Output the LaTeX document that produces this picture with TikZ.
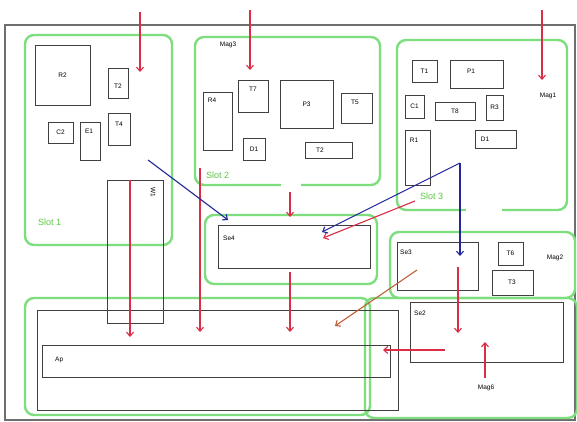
\documentclass[tikz,border=0pt]{standalone}
\usepackage{fontspec}
\setmainfont{Liberation Sans}
\usetikzlibrary{fit,arrows.meta}
\definecolor{grn}{RGB}{125,222,125}
\definecolor{grnt}{RGB}{90,200,60}
\definecolor{rd}{RGB}{220,45,70}
\definecolor{bl}{RGB}{35,40,150}
\definecolor{brn}{RGB}{190,95,60}
\definecolor{gry}{RGB}{110,110,110}
\tikzset{
  region/.style={draw=grn, line width=2.4pt, rounded corners=9pt, inner sep=0pt},
  part/.style={draw=black!75, line width=0.8pt, inner sep=0pt, font=\fontsize{6.5}{7}\selectfont},
  tag/.style={font=\fontsize{6.5}{7}\selectfont, inner sep=0pt},
  slotlbl/.style={font=\fontsize{9}{10}\selectfont, text=grnt, inner sep=0pt},
  flow/.style={draw=rd, line width=1.1pt, -{Straight Barb[length=4pt,width=7pt]}},
  bflow/.style={draw=bl, line width=1.1pt, -{Straight Barb[length=4pt,width=7pt]}},
  oflow/.style={draw=brn, line width=1.1pt, -{Straight Barb[length=4pt,width=7pt]}}
}
\begin{document}
\begin{tikzpicture}[x=1pt,y=-1pt]
\useasboundingbox (0,0) rectangle (577,422);
\fill[white] (0,0) rectangle (577,422);
% outer frame
\node[draw=gry, line width=1.3pt, inner sep=0pt, fit={(5,25)(575,420)}] (frame) {};
% green regions
\node[region, fit={(25,35)(172,245)}] (slot1) {};
\node[region, fit={(195,37)(380,185)}] (slot2) {};
\node[region, fit={(397,40)(567,210)}] (slot3) {};
\node[region, fit={(205,215)(377,284)}] (g4) {};
\node[region, fit={(390,232)(575,298)}] (gmag2) {};
\node[region, fit={(25,298)(370,415)}] (gbot) {};
\node[region, fit={(365,298)(577,418)}] (gbr) {};
% gaps in slot borders
\fill[white] (281,182) rectangle (301,188);
\fill[white] (466,207) rectangle (502,213);
% slot labels
\node[slotlbl, anchor=west] (l1) at (38,222) {Slot 1};
\node[slotlbl, anchor=west] (l2) at (206,175) {Slot 2};
\node[slotlbl, anchor=west] (l3) at (420,196) {Slot 3};
% Slot 1 parts
\node[part, fit={(35,45)(90,105)}] (R2) {}; \node[tag] at (R2.center) {R2};
\node[part, fit={(108,68)(128,98)}] (T2a) {}; \node[tag] at (118,86) {T2};
\node[part, fit={(48,122)(73,143)}] (C2) {}; \node[tag] at (C2.center) {C2};
\node[part, fit={(80,122)(100,160)}] (E1) {}; \node[tag] at (89,131) {E1};
\node[part, fit={(108,113)(130,145)}] (T4) {}; \node[tag] at (119,124) {T4};
\node[part, fit={(107,180)(163,323)}] (W1) {}; \node[tag, rotate=-90] at (153,192) {W1};
% Slot 2 parts
\node[tag] (mag3) at (228,45) {Mag3};
\node[part, fit={(203,92)(232,150)}] (R4) {}; \node[tag] at (212,100) {R4};
\node[part, fit={(238,80)(268,112)}] (T7) {}; \node[tag] at (253,89) {T7};
\node[part, fit={(280,80)(333,128)}] (P3) {}; \node[tag] at (P3.center) {P3};
\node[part, fit={(341,93)(372,123)}] (T5) {}; \node[tag] at (355,102) {T5};
\node[part, fit={(243,138)(265,160)}] (D1a) {}; \node[tag] at (D1a.center) {D1};
\node[part, fit={(305,142)(352,158)}] (T2b) {}; \node[tag] at (320,150) {T2};
% Slot 3 parts
\node[tag] (mag1) at (548,96) {Mag1};
\node[part, fit={(412,60)(437,82)}] (T1) {}; \node[tag] at (T1.center) {T1};
\node[part, fit={(450,60)(503,88)}] (P1) {}; \node[tag] at (471,71) {P1};
\node[part, fit={(405,95)(424,118)}] (C1) {}; \node[tag] at (C1.center) {C1};
\node[part, fit={(435,102)(475,120)}] (T8) {}; \node[tag] at (T8.center) {T8};
\node[part, fit={(486,95)(503,120)}] (R3) {}; \node[tag] at (R3.center) {R3};
\node[part, fit={(405,130)(430,185)}] (R1) {}; \node[tag] at (414,140) {R1};
\node[part, fit={(475,130)(516,148)}] (D1b) {}; \node[tag] at (485,139) {D1};
% Se4
\node[part, fit={(218,225)(370,268)}] (Se4) {}; \node[tag, anchor=west] at (223,238) {Se4};
% Mag2 region
\node[part, fit={(397,242)(478,290)}] (Se3) {}; \node[tag, anchor=west] at (400,252) {Se3};
\node[part, fit={(498,242)(523,265)}] (T6) {}; \node[tag] at (T6.center) {T6};
\node[part, fit={(492,270)(533,295)}] (T3) {}; \node[tag] at (512,282) {T3};
\node[tag] (mag2) at (555,258) {Mag2};
% bottom
\node[part, fit={(37,310)(398,410)}] (Big) {};
\node[part, fit={(42,345)(390,377)}] (Ap) {}; \node[tag, anchor=west] at (55,360) {Ap};
\node[part, fit={(410,302)(563,362)}] (Se2) {}; \node[tag, anchor=west] at (414,313) {Se2};
\node[tag] (mag6) at (486,388) {Mag6};
% coordinates for flows
\coordinate (a1s) at (140,12); \coordinate (a1e) at (140,72);
\coordinate (a2s) at (250,10); \coordinate (a2e) at (250,70);
\coordinate (a3s) at (542,10); \coordinate (a3e) at (542,80);
\coordinate (a4s) at (130,180); \coordinate (a4e) at (130,337);
\coordinate (a5s) at (200,168); \coordinate (a5e) at (200,332);
\coordinate (a6s) at (290,192); \coordinate (a6e) at (290,217);
\coordinate (a7s) at (290,272); \coordinate (a7e) at (290,332);
\coordinate (a8s) at (415,201); \coordinate (a8e) at (323,238);
\coordinate (b1s) at (148,160); \coordinate (b1e) at (228,220);
\coordinate (bv) at (460,163); \coordinate (b2e) at (322,232); \coordinate (b3e) at (460,256);
\coordinate (o1s) at (417,270); \coordinate (o1e) at (335,326);
\coordinate (a9s) at (458,267); \coordinate (a9e) at (458,333);
\coordinate (a10s) at (445,350); \coordinate (a10e) at (383,350);
\coordinate (a11s) at (485,378); \coordinate (a11e) at (485,342);
% flows
\draw[flow] (a1s) -- (a1e);
\draw[flow] (a2s) -- (a2e);
\draw[flow] (a3s) -- (a3e);
\draw[flow] (a4s) -- (a4e);
\draw[flow] (a5s) -- (a5e);
\draw[flow] (a6s) -- (a6e);
\draw[flow] (a7s) -- (a7e);
\draw[flow] (a8s) -- (a8e);
\draw[bflow] (b1s) -- (b1e);
\draw[bflow] (bv) -- (b2e);
\draw[bflow] (bv) -- (b3e);
\draw[oflow] (o1s) -- (o1e);
\draw[flow] (a9s) -- (a9e);
\draw[flow] (a10s) -- (a10e);
\draw[flow] (a11s) -- (a11e);
\end{tikzpicture}
\end{document}
